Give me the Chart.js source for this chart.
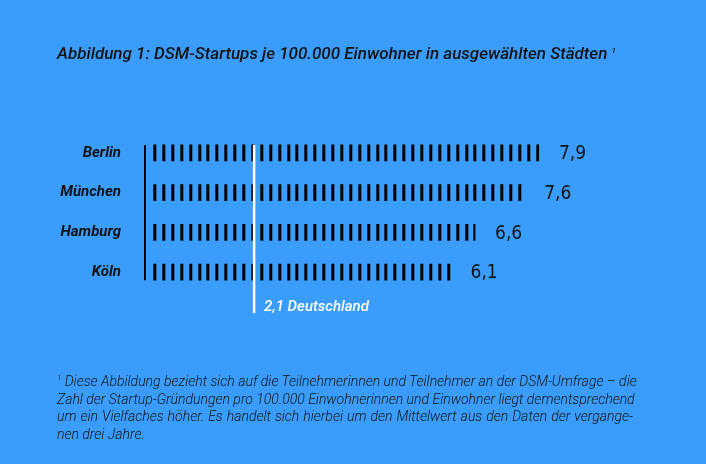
<!DOCTYPE html>
<html>
<head>
<meta charset="utf-8">
<script src="https://cdn.jsdelivr.net/npm/chart.js@4"></script>
<style>
  html, body { margin: 0; padding: 0; }
  body { width: 706px; height: 464px; background: #3a9dfc; position: relative; overflow: hidden; font-family: Roboto, sans-serif; color: #111; }
  #wrap { position: absolute; left: 0; top: 0; width: 706px; height: 464px; }
  #titel { position: absolute; left: 57px; top: 42px; font-size: 17px; font-style: italic; font-weight: 500; white-space: nowrap; line-height: 22px; }
  #titel sup, #fussnote sup { font-size: 8px; line-height: 0; vertical-align: 6px; }
  #fussnote { position: absolute; left: 57px; top: 373px; width: 576px; font-size: 14px; font-style: italic; font-weight: 300; line-height: 17.7px; }
  #fussnote div { text-align: justify; text-align-last: justify; white-space: nowrap; }
  #fussnote div.last { text-align-last: left; }
</style>
</head>
<body>
<div id="wrap"><canvas id="chart" width="706" height="464"></canvas></div>
<div id="titel">Abbildung 1: DSM-Startups je 100.000 Einwohner in ausgewählten Städten <sup>1</sup></div>
<div id="fussnote">
  <div><sup>1</sup> Diese Abbildung bezieht sich auf die Teilnehmerinnen und Teilnehmer an der DSM-Umfrage – die</div>
  <div>Zahl der Startup-Gründungen pro 100.000 Einwohnerinnen und Einwohner liegt dementsprechend</div>
  <div>um ein Vielfaches höher. Es handelt sich hierbei um den Mittelwert aus den Daten der vergange-</div>
  <div class="last">nen drei Jahre.</div>
</div>
<script>
// Daten
const staedte = ['Berlin', 'München', 'Hamburg', 'Köln']
const werte = [7.9, 7.6, 6.6, 6.1]
const werteText = ['7,9', '7,6', '6,6', '6,1']
const deutschlandWert = 2.1
const deutschlandText = '2,1 Deutschland'

// Strichmuster fuer die Balken
function strichMuster(ctx) {
    const c = document.createElement('canvas')
    c.width = 89
    c.height = 4
    const g = c.getContext('2d')
    g.fillStyle = '#000'
    for (let i = 0; i < 10; i++) {
        g.fillRect(Math.round(i * 8.9), 0, 3, 4)
    }
    return ctx.createPattern(c, 'repeat')
}

// Achse links, Linie Deutschland, Werte rechts
const extras = {
    id: 'extras',
    beforeDatasetsDraw(chart) {
        const p = chart.data.datasets[0].backgroundColor
        if (p && p.setTransform)
            p.setTransform(new DOMMatrix().translate(chart.chartArea.left + 2.3, 0))
    },
    afterDatasetsDraw(chart) {
        const ctx = chart.ctx
        const bars = chart.getDatasetMeta(0).data
        const x = chart.scales.x
        const oben = bars[0].y - bars[0].height / 2
        const unten = bars[bars.length - 1].y + bars[bars.length - 1].height / 2
        ctx.save()
        // Achsenlinie (kleiner Abstand zu den Balken)
        ctx.strokeStyle = '#000'
        ctx.lineWidth = 2
        ctx.beginPath()
        ctx.moveTo(chart.chartArea.left - 6, oben)
        ctx.lineTo(chart.chartArea.left - 6, unten)
        ctx.stroke()
        // Deutschland
        const dx = x.getPixelForValue(deutschlandWert)
        ctx.strokeStyle = '#fff'
        ctx.lineWidth = 2.5
        ctx.beginPath()
        ctx.moveTo(dx, oben)
        ctx.lineTo(dx, unten + 33)
        ctx.stroke()
        ctx.fillStyle = '#fff'
        ctx.font = 'italic 500 15px Roboto'
        ctx.textBaseline = 'middle'
        ctx.fillText(deutschlandText, dx + 10, unten + 27)
        // Werte
        ctx.fillStyle = '#111'
        ctx.font = '19px "DejaVu Sans Condensed", "DejaVu Sans"'
        ctx.textBaseline = 'alphabetic'
        bars.forEach((bar, i) => {
            ctx.fillText(werteText[i], bar.x + 20, bar.y + 6.3)
        })
        ctx.restore()
    }
}

function zeichnen() {
    const canvas = document.getElementById('chart')
    const ctx = canvas.getContext('2d')
    new Chart(canvas, {
        type: 'bar',
        data: {
            labels: staedte,
            datasets: [{
                data: werte,
                backgroundColor: strichMuster(ctx),
                borderWidth: 0,
                barThickness: 16
            }]
        },
        options: {
            indexAxis: 'y',
            responsive: false,
            animation: false,
            devicePixelRatio: 1,
            layout: { padding: { top: 133, bottom: 172, left: 0, right: 64 } },
            plugins: { legend: { display: false }, tooltip: { enabled: false } },
            scales: {
                x: { display: false, min: 0, max: 10 },
                y: {
                    grid: { display: false, drawTicks: false },
                    border: { display: false },
                    ticks: {
                        color: '#111',
                        padding: 30,
                        font: { family: 'Roboto', style: 'italic', weight: 'bold', size: 15 }
                    },
                    afterFit(scale) { scale.width = 151 }
                }
            }
        },
        plugins: [extras]
    })
}

Promise.all([
    document.fonts.load('italic bold 15px Roboto'),
    document.fonts.load('italic 500 15px Roboto'),
    document.fonts.load('19px "DejaVu Sans Condensed"')
]).then(zeichnen, zeichnen)
</script>
</body>
</html>
